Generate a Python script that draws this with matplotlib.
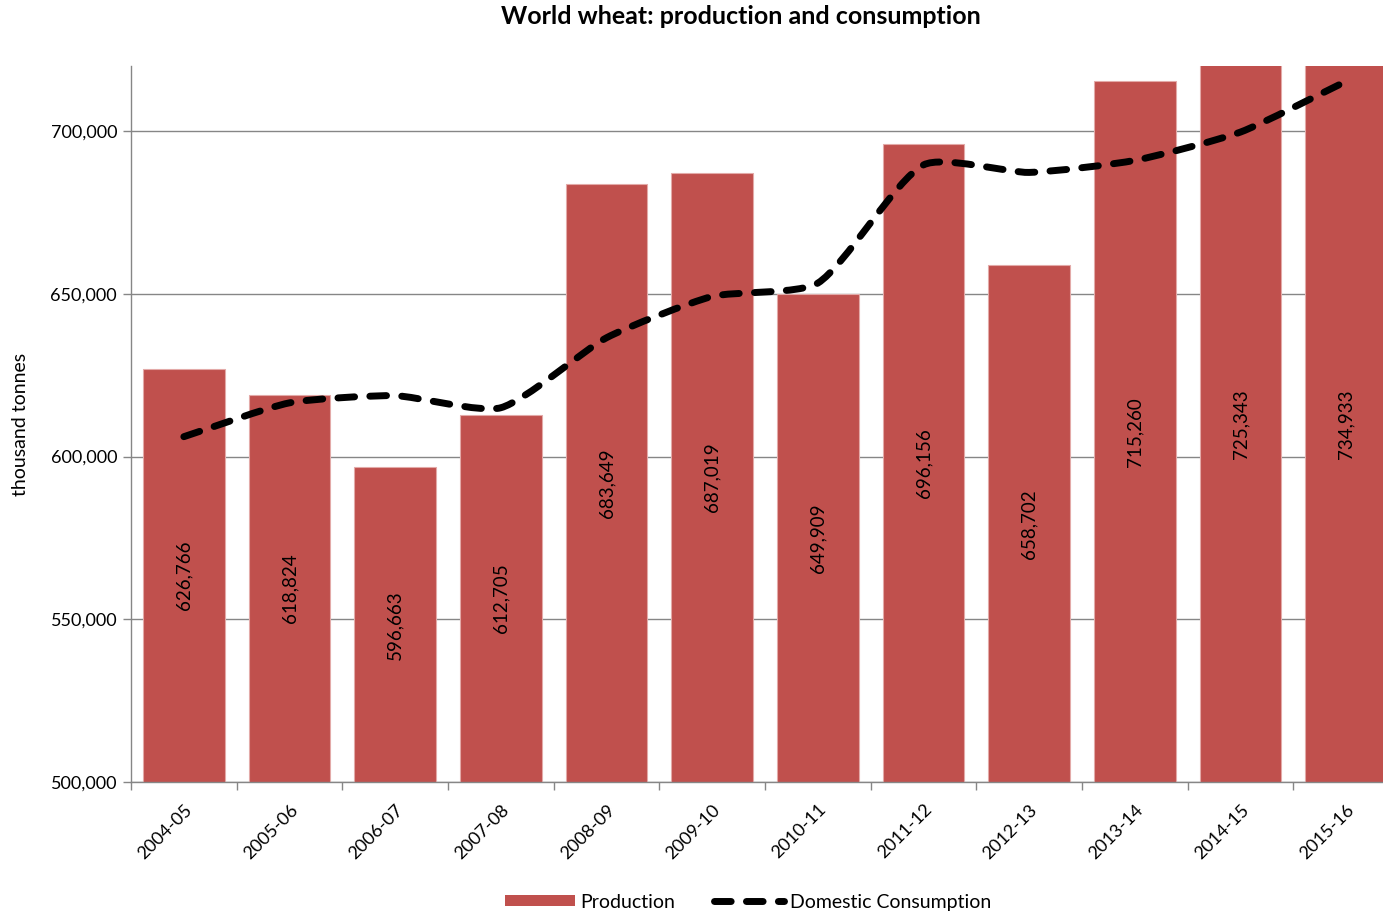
import matplotlib
matplotlib.use("Agg")
import matplotlib.pyplot as plt
import numpy as np
from matplotlib.lines import Line2D
from matplotlib.patches import Patch, PathPatch
from matplotlib.path import Path

plt.rcParams["font.family"] = ["Lato", "DejaVu Sans"]

seasons = ["2004-05", "2005-06", "2006-07", "2007-08", "2008-09", "2009-10",
           "2010-11", "2011-12", "2012-13", "2013-14", "2014-15", "2015-16"]
production = [626766, 618824, 596663, 612705, 683649, 687019,
              649909, 696156, 658702, 715260, 725343, 734933]
consumption = [606100, 616500, 618700, 615000, 636500, 649200,
               653300, 689600, 687300, 691000, 699700, 715300]

BAR_COLOR = "#C0504D"
GRID_COLOR = "#868686"
Y_MIN, Y_MAX = 500000, 720000
LINE_W = 5.0
DASHES = (0, (2.4, 2.2))


def smooth_path(xs, ys, sx, sy, tension=0.2):
    """Excel-like smoothed line: Bezier segments with tangent lengths
    scaled to the neighbouring segment length (measured in screen units)."""
    pts = np.column_stack([np.asarray(xs, float) * sx, np.asarray(ys, float) * sy])
    n = len(pts)
    verts = [pts[0]]
    codes = [Path.MOVETO]

    def tangent(i):
        a = pts[max(i - 1, 0)]
        b = pts[min(i + 1, n - 1)]
        d = b - a
        return d / np.hypot(*d)

    for i in range(n - 1):
        p1, p2 = pts[i], pts[i + 1]
        seg = np.hypot(*(p2 - p1))
        c1 = p1 + tangent(i) * seg * tension
        c2 = p2 - tangent(i + 1) * seg * tension
        verts += [c1, c2, p2]
        codes += [Path.CURVE4] * 3
    verts = np.array(verts) / np.array([sx, sy])
    return Path(verts, codes)


fig = plt.figure(figsize=(13.83, 9.13), dpi=100)
ax = fig.add_axes([131 / 1383, 1 - 782 / 913, 1268 / 1383, (782 - 66) / 913])

x = np.arange(len(seasons))
ax.bar(x, production, width=0.77, color=BAR_COLOR, edgecolor="#E3AAA8",
       linewidth=0.8, zorder=2)

for xi, v in zip(x, production):
    ymid = (Y_MIN + min(v, Y_MAX)) / 2
    ax.text(xi, ymid, f"{v:,}", rotation=90, ha="center", va="center",
            fontsize=13.5, color="black", zorder=4)

# pixel scale: one category = 105.7 px, 50,000 t = 163 px
line = PathPatch(smooth_path(x, consumption, 105.7, 163 / 50000), fill=False,
                 edgecolor="black", linewidth=LINE_W, linestyle=DASHES,
                 zorder=3)
line.set_capstyle("round")
ax.add_patch(line)

ax.set_xlim(-0.5, len(seasons) - 0.5)
ax.set_ylim(Y_MIN, Y_MAX)

ax.set_xticks(np.arange(-0.5, len(seasons), 1.0))
ax.set_xticklabels([])
ax.set_xticks(x, minor=True)
ax.set_xticklabels(seasons, minor=True, rotation=45, ha="right",
                   rotation_mode="anchor", fontsize=13)
ax.tick_params(axis="x", which="major", length=6, color=GRID_COLOR, width=1)
ax.tick_params(axis="x", which="minor", length=0, pad=14)

yt = np.arange(500000, 700001, 50000)
ax.set_yticks(yt)
ax.set_yticklabels([f"{v:,}" for v in yt], fontsize=13)
ax.tick_params(axis="y", length=6, color=GRID_COLOR, width=1, pad=4)
ax.yaxis.grid(True, color=GRID_COLOR, linewidth=1)
ax.set_axisbelow(True)

for side in ("top", "right"):
    ax.spines[side].set_visible(False)
for side in ("left", "bottom"):
    ax.spines[side].set_color(GRID_COLOR)
    ax.spines[side].set_linewidth(1)

fig.text(21 / 1383, 1 - 424 / 913, "thousand tonnes", rotation=90,
         ha="center", va="center", fontsize=14)
fig.text(741 / 1383, 1 - 17 / 913, "World wheat: production and consumption",
         ha="center", va="center", fontsize=18, fontweight="bold")

handles = [
    Patch(facecolor=BAR_COLOR, edgecolor="none"),
    Line2D([], [], color="black", linewidth=LINE_W, linestyle=DASHES,
           dash_capstyle="round"),
]
fig.legend(handles, ["Production", "Domestic Consumption"], loc="center",
           bbox_to_anchor=(748 / 1383, 1 - 902 / 913), ncol=2, frameon=False,
           fontsize=14, handlelength=3.6, handleheight=0.55,
           handletextpad=0.3, columnspacing=2.0)

fig.savefig("out.png", dpi=100)
